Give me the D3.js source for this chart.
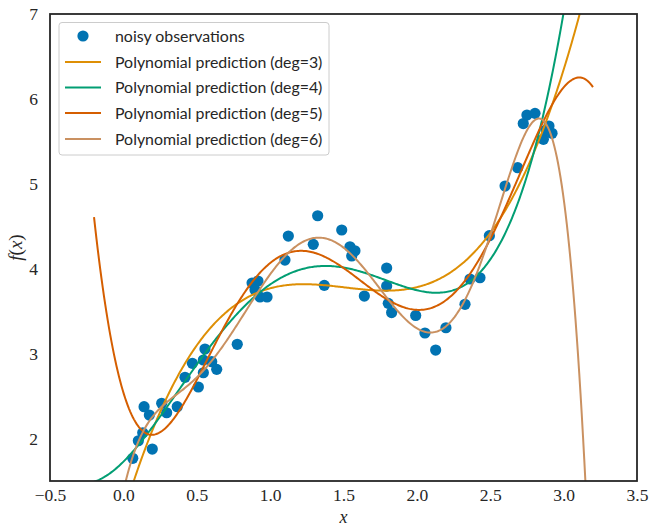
<!DOCTYPE html>
<html><head><meta charset="utf-8">
<script src="https://cdn.jsdelivr.net/npm/d3@7/dist/d3.min.js"></script>
<style>html,body{margin:0;padding:0;background:#fff;}</style>
</head><body>
<svg id="chart" width="650" height="526"></svg>
<script>
// observations
const obsX = [0.064,0.102,0.132,0.197,0.141,0.177,0.261,0.295,0.367,0.420,0.470,0.511,0.545,0.545,0.556,0.602,0.636,0.776,
  0.877,0.917,0.897,0.931,0.979,1.101,1.124,1.294,1.324,1.369,1.488,1.544,1.578,1.556,1.642,1.794,1.794,1.805,1.828,1.992,
  2.055,2.128,2.198,2.328,2.362,2.430,2.494,2.601,2.687,2.725,2.750,2.805,2.900,2.921,2.862,2.880];
const obsY = [1.767,1.974,2.068,1.876,2.375,2.277,2.415,2.304,2.375,2.721,2.886,2.607,2.925,2.775,3.054,2.905,2.815,3.110,
  3.832,3.855,3.749,3.667,3.667,4.102,4.385,4.287,4.624,3.804,4.456,4.259,4.212,4.150,3.678,4.008,3.796,3.592,3.484,3.449,
  3.243,3.042,3.305,3.581,3.879,3.894,4.389,4.974,5.190,5.710,5.810,5.830,5.681,5.595,5.524,5.634];
const degrees = [3,4,5,6];
const seriesNames = ["Polynomial prediction (deg=3)","Polynomial prediction (deg=4)","Polynomial prediction (deg=5)","Polynomial prediction (deg=6)"];
const seriesColors = ["#de8f05","#029e73","#d55e00","#ca9161"];
const obsName = "noisy observations";
const predRange = [-0.2, 3.2];
const xTicks = [-0.5,0.0,0.5,1.0,1.5,2.0,2.5,3.0,3.5];
const yTicks = [2,3,4,5,6,7];

const W = 650, H = 526;
const m = {left:50, right:13, top:14, bottom:45};
const svg = d3.select("#chart");
const x = d3.scaleLinear().domain([-0.5,3.5]).range([m.left, W-m.right]);
const y = d3.scaleLinear().domain([1.5,7]).range([H-m.bottom, m.top]);

// least squares polynomial fit on the observations
function polyfit(xs, ys, deg){
  const c0 = 1.5, s = 1.5;
  const n = deg+1;
  const A = Array.from({length:n},()=>new Array(n).fill(0));
  const b = new Array(n).fill(0);
  xs.forEach((xv,i)=>{
    const t=(xv-c0)/s; const p=[]; let v=1;
    for(let k=0;k<n;k++){p.push(v); v*=t;}
    for(let r=0;r<n;r++){ b[r]+=p[r]*ys[i]; for(let c=0;c<n;c++) A[r][c]+=p[r]*p[c]; }
  });
  for(let col=0;col<n;col++){
    let piv=col; for(let r=col+1;r<n;r++) if(Math.abs(A[r][col])>Math.abs(A[piv][col])) piv=r;
    [A[col],A[piv]]=[A[piv],A[col]]; [b[col],b[piv]]=[b[piv],b[col]];
    for(let r=col+1;r<n;r++){ const f=A[r][col]/A[col][col]; for(let c=col;c<n;c++) A[r][c]-=f*A[col][c]; b[r]-=f*b[col]; }
  }
  const coef=new Array(n).fill(0);
  for(let r=n-1;r>=0;r--){ let sum=b[r]; for(let c=r+1;c<n;c++) sum-=A[r][c]*coef[c]; coef[r]=sum/A[r][r]; }
  return xv=>{ const t=(xv-c0)/s; let v=0; for(let k=n-1;k>=0;k--) v=v*t+coef[k]; return v; };
}

svg.append("defs").append("clipPath").attr("id","clip").append("rect")
  .attr("x",m.left).attr("y",m.top).attr("width",W-m.left-m.right).attr("height",H-m.top-m.bottom);

const plot = svg.append("g").attr("clip-path","url(#clip)");
plot.selectAll("circle").data(obsX.map((v,i)=>[v,obsY[i]])).enter().append("circle")
  .attr("cx",d=>x(d[0])).attr("cy",d=>y(d[1])).attr("r",5.6).attr("fill","#0173b2");

const grid = d3.range(0,401).map(i=>predRange[0]+(predRange[1]-predRange[0])*i/400);
degrees.forEach((deg,i)=>{
  const f = polyfit(obsX, obsY, deg);
  plot.append("path").datum(grid.map(g=>[g,f(g)]))
    .attr("fill","none").attr("stroke",seriesColors[i]).attr("stroke-width",2)
    .attr("d",d3.line().x(d=>x(d[0])).y(d=>y(Math.max(-50,Math.min(60,d[1])))));
});

// frame
svg.append("rect").attr("x",m.left).attr("y",m.top).attr("width",W-m.left-m.right).attr("height",H-m.top-m.bottom)
  .attr("fill","none").attr("stroke","#262626").attr("stroke-width",1.8);

// axes (no tick marks)
const xAxis = d3.axisBottom(x).tickValues(xTicks).tickFormat(d=>d3.format(".1f")(d).replace("-","\u2212")).tickSize(0).tickPadding(8);
const gx = svg.append("g").attr("transform",`translate(0,${H-m.bottom})`).call(xAxis);
const yAxis = d3.axisLeft(y).tickValues(yTicks).tickFormat(d3.format("d")).tickSize(0).tickPadding(12);
const gy = svg.append("g").attr("transform",`translate(${m.left},0)`).call(yAxis);
[gx,gy].forEach(g=>{ g.select(".domain").remove(); g.selectAll("text").attr("font-family","'Liberation Serif', serif").attr("font-size",17.5).attr("fill","#262626"); });

svg.append("text").attr("x",(m.left+W-m.right)/2).attr("y",523).attr("text-anchor","middle")
  .attr("font-family","'Liberation Serif', serif").attr("font-style","italic").attr("font-size",18).attr("fill","#262626").text("x");
svg.append("text").attr("transform",`translate(22,${(m.top+H-m.bottom)/2}) rotate(-90)`).attr("text-anchor","middle")
  .attr("font-family","'Liberation Serif', serif").attr("font-size",19).attr("fill","#262626")
  .html("<tspan font-style='italic'>f</tspan>(<tspan font-style='italic'>x</tspan>)");

// legend
const lg = svg.append("g");
lg.append("rect").attr("x",59).attr("y",22.5).attr("width",270).attr("height",132.5).attr("rx",3)
  .attr("fill","#fff").attr("fill-opacity",0.8).attr("stroke","#cccccc").attr("stroke-width",1);
const rowY = [36,62,87.5,113,139];
lg.append("circle").attr("cx",83).attr("cy",rowY[0]).attr("r",5.6).attr("fill","#0173b2");
const labels = [obsName].concat(seriesNames);
seriesColors.forEach((c,i)=>{
  lg.append("line").attr("x1",65).attr("x2",101).attr("y1",rowY[i+1]).attr("y2",rowY[i+1]).attr("stroke",c).attr("stroke-width",2);
});
labels.forEach((t,i)=>{
  lg.append("text").attr("x",115).attr("y",rowY[i]).attr("dy","0.35em")
    .attr("font-family","'Lato', sans-serif").attr("font-size",15.9).attr("fill","#262626").text(t);
});
</script>
</body></html>
